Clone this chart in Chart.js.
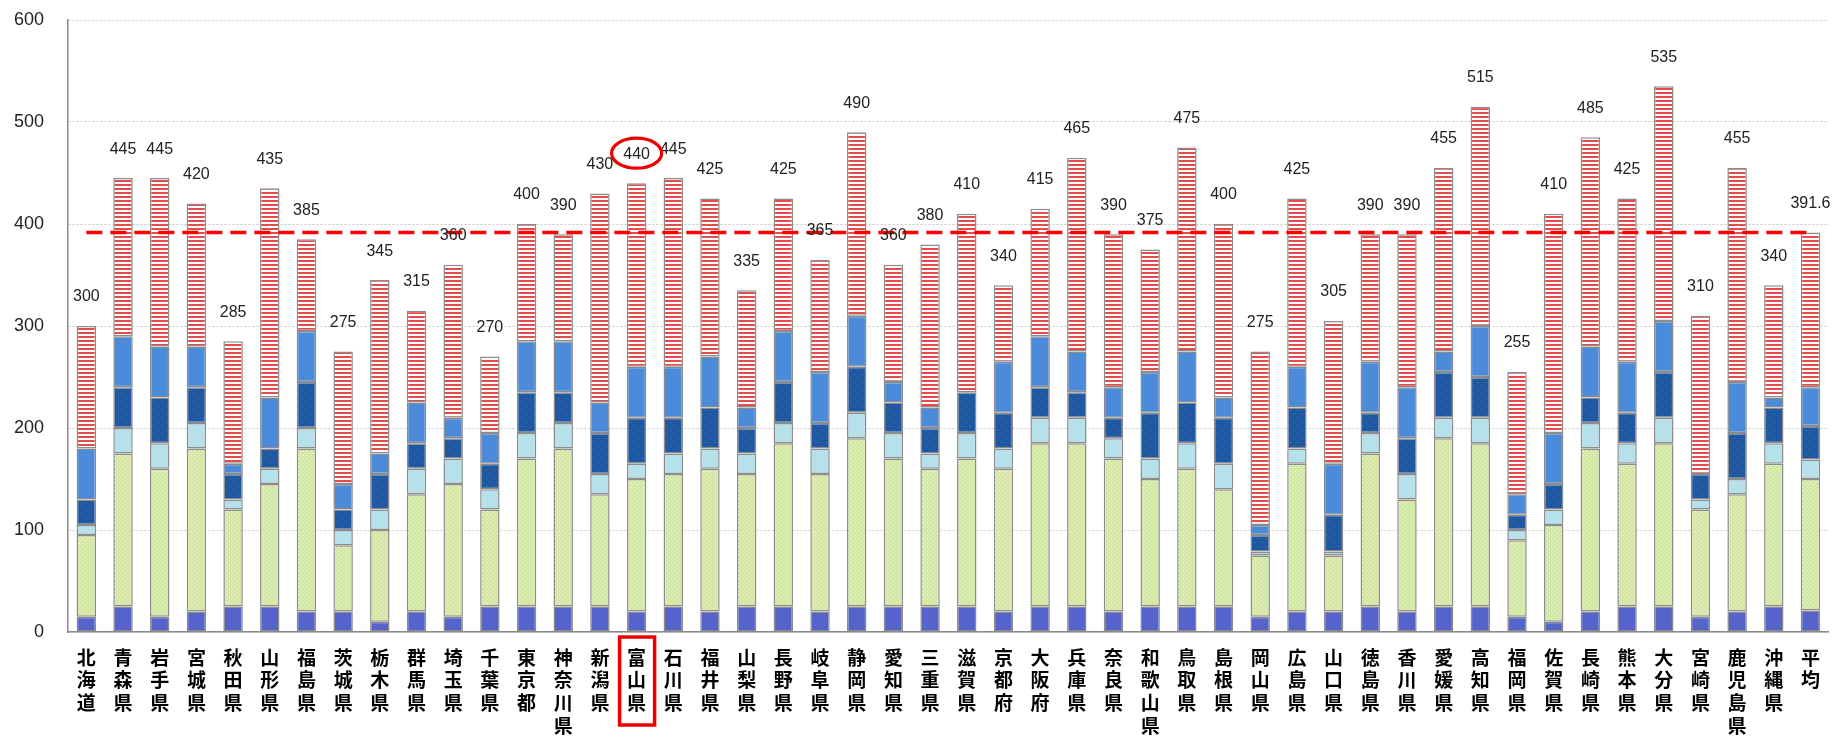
<!DOCTYPE html>
<html>
<head>
<meta charset="utf-8">
<script src="https://cdn.jsdelivr.net/npm/chart.js@4.4.1/dist/chart.umd.min.js"></script>
<style>
html, body { margin: 0; padding: 0; background: #fff; overflow: hidden; }
#wrap { width: 1834px; height: 739px; position: relative; }
</style>
</head>
<body>
<div id="wrap"><canvas id="chart"></canvas></div>
<script>
// Categories
const prefectures = ['北海道','青森県','岩手県','宮城県','秋田県','山形県','福島県','茨城県','栃木県','群馬県',
    '埼玉県','千葉県','東京都','神奈川県','新潟県','富山県','石川県','福井県','山梨県','長野県',
    '岐阜県','静岡県','愛知県','三重県','滋賀県','京都府','大阪府','兵庫県','奈良県','和歌山県',
    '鳥取県','島根県','岡山県','広島県','山口県','徳島県','香川県','愛媛県','高知県','福岡県',
    '佐賀県','長崎県','熊本県','大分県','宮崎県','鹿児島県','沖縄県','平均'];

// Stack segments, bottom to top
const segPurple = [15,25,15,20,25,25,20,20,10,20, 15,25,25,25,25,20,25,20,25,25, 20,25,25,25,25,20,25,25,20,25, 25,25,15,20,20,25,20,25,25,15, 10,20,25,25,15,20,25,21];
const segGreen  = [80,150,145,160,95,120,160,65,90,115, 130,95,145,155,110,130,130,140,130,160, 135,165,145,135,145,140,160,160,150,125, 135,115,60,145,55,150,110,165,160,75, 95,160,140,160,105,115,140,129];
const segCyan   = [10,25,25,25,10,15,20,15,20,25, 25,20,25,25,20,15,20,20,20,20, 25,25,25,15,25,20,25,25,20,20, 25,25,4,15,4,20,25,20,25,10, 15,25,20,25,10,15,20,19];
const segDark   = [25,40,45,35,25,20,45,20,35,25, 20,25,40,30,40,45,35,40,25,40, 25,45,30,25,40,35,30,25,20,45, 40,45,16,40,36,20,35,45,40,15, 25,25,30,45,25,45,35,33];
const segMedium = [50,50,50,40,10,50,50,25,20,40, 20,30,50,50,30,50,50,50,20,50, 50,50,20,20,0,50,50,40,30,40, 50,20,10,40,50,50,50,20,50,20, 50,50,50,50,0,50,10,38];
const segRed    = [120,155,165,140,120,205,90,130,170,90, 150,75,115,105,205,180,185,155,115,130, 110,180,115,160,175,75,125,190,150,120, 200,170,170,165,140,125,150,180,215,120, 215,205,160,230,155,210,110,151.6];

// Total labels shown above the bars
const totals = [300,445,445,420,285,435,385,275,345,315, 360,270,400,390,430,440,445,425,335,425,
    365,490,360,380,410,340,415,465,390,375, 475,400,275,425,305,390,390,455,515,255,
    410,485,425,535,310,455,340,391.6];
const avgValue = 391.6;
const yTicks = [0,100,200,300,400,500,600];
const highlight = '富山県';

// Fill patterns
function makePattern(w, h, draw) {
    const c = document.createElement('canvas');
    c.width = w; c.height = h;
    draw(c.getContext('2d'));
    return document.getElementById('chart').getContext('2d').createPattern(c, 'repeat');
}
const greenDots = makePattern(4, 4, g => {
    g.fillStyle = '#d3e5a7'; g.fillRect(0, 0, 4, 4);
    g.fillStyle = '#f3f8e8'; g.fillRect(1, 1, 1, 1); g.fillRect(3, 3, 1, 1);
});
const darkDots = makePattern(8, 8, g => {
    g.fillStyle = '#1f56a5'; g.fillRect(0, 0, 8, 8);
    g.fillStyle = '#3f8c7c'; g.fillRect(2, 2, 1, 1); g.fillRect(6, 6, 1, 1);
});
const redStripes = makePattern(4, 4, g => {
    g.fillStyle = '#ffffff'; g.fillRect(0, 0, 4, 4);
    g.fillStyle = '#e44c4c'; g.fillRect(0, 0, 4, 2);
});

const barStyle = { borderColor: '#8c8c8c', borderWidth: 1.5, borderSkipped: false,
    barPercentage: 0.53, categoryPercentage: 1, order: 1, stack: 'total' };

// Labels, ellipse and box drawn on top
const overlay = {
    id: 'overlay',
    afterDatasetsDraw(chart) {
        const { ctx, scales: { x, y } } = chart;
        ctx.save();
        ctx.font = '16px "Liberation Sans", Arial, sans-serif';
        ctx.fillStyle = '#222';
        ctx.textAlign = 'center';
        ctx.textBaseline = 'middle';
        totals.forEach((t, i) => ctx.fillText(String(t), x.getPixelForValue(i), y.getPixelForValue(t) - 29));

        const hi = prefectures.indexOf(highlight);
        const hx = x.getPixelForValue(hi);
        const hy = y.getPixelForValue(totals[hi]) - 30;
        ctx.strokeStyle = '#ee0000';
        ctx.lineWidth = 3.2;
        ctx.beginPath();
        ctx.ellipse(hx, hy, 25, 15, 0, 0, Math.PI * 2);
        ctx.stroke();
        ctx.lineWidth = 3.5;
        ctx.strokeRect(hx - 17, y.bottom + 5, 35, 88);
        ctx.restore();
    }
};

new Chart(document.getElementById('chart'), {
    type: 'bar',
    data: {
        labels: prefectures.map(n => n.split('')),
        datasets: [
            { type: 'line', data: prefectures.map(() => avgValue), borderColor: '#ff0000', borderWidth: 3.5,
              borderDash: [16, 8], pointRadius: 0, fill: false, order: 0, stack: 'avg' },
            { ...barStyle, data: segPurple, backgroundColor: '#5563cb' },
            { ...barStyle, data: segGreen, backgroundColor: greenDots },
            { ...barStyle, data: segCyan, backgroundColor: '#b6e0ea' },
            { ...barStyle, data: segDark, backgroundColor: darkDots },
            { ...barStyle, data: segMedium, backgroundColor: '#4b8bd9' },
            { ...barStyle, data: segRed, backgroundColor: redStripes }
        ]
    },
    options: {
        responsive: true,
        maintainAspectRatio: false,
        animation: false,
        layout: { padding: { top: 20, right: 2, left: 0, bottom: 0 } },
        plugins: { legend: { display: false }, tooltip: { enabled: false } },
        scales: {
            x: {
                stacked: true,
                grid: { display: false, drawTicks: false },
                border: { color: '#8a8a8a', width: 1.5 },
                ticks: { autoSkip: false, maxRotation: 0, minRotation: 0, padding: 14, color: '#000',
                         font: { family: '"Noto Sans CJK JP"', size: 19, weight: 'bold', lineHeight: 1.2 } },
                afterFit: s => { s.height = 107; }
            },
            y: {
                stacked: true, min: 0, max: 600,
                afterBuildTicks: s => { s.ticks = yTicks.map(v => ({ value: v })); },
                ticks: { padding: 24, color: '#222', font: { family: '"Liberation Sans", Arial, sans-serif', size: 18 } },
                grid: { color: '#c8c8c8', drawTicks: false },
                border: { color: '#8a8a8a', width: 1.5, dash: [2, 2] },
                afterFit: s => { s.width = 68; s.paddingTop = 0; s.paddingBottom = 0; }
            }
        }
    },
    plugins: [overlay]
});
</script>
</body>
</html>
